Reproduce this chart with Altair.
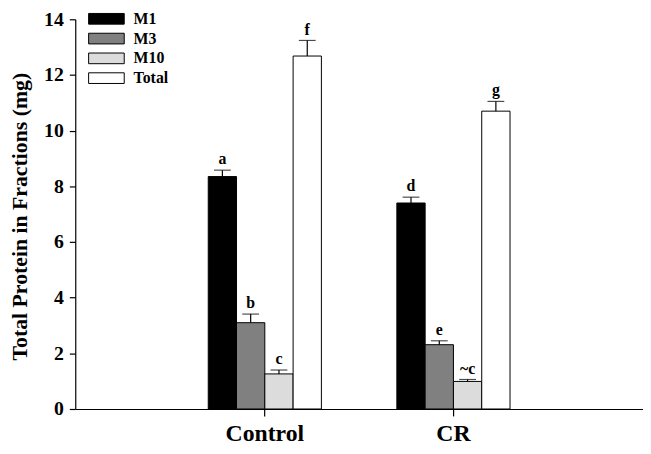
import altair as alt
import pandas as pd

groups = ["Control", "CR"]
fractions = ["M1", "M3", "M10", "Total"]
control_vals = [8.35, 3.10, 1.26, 12.68]
control_err = [0.23, 0.31, 0.14, 0.56]
cr_vals = [7.40, 2.31, 0.99, 10.70]
cr_err = [0.21, 0.14, 0.07, 0.35]
control_letters = ["a", "b", "c", "f"]
cr_letters = ["d", "e", "~c", "g"]
fill_colors = ["#000000", "#808080", "#dcdcdc", "#ffffff"]

rows = []
for g, vals, errs, lets in [("Control", control_vals, control_err, control_letters),
                            ("CR", cr_vals, cr_err, cr_letters)]:
    for f, v, e, l in zip(fractions, vals, errs, lets):
        rows.append({"group": g, "fraction": f, "value": v, "top": v + e, "letter": l})
df = pd.DataFrame(rows)

FONT = "Liberation Serif"

x = alt.X("group:N", sort=groups, title=None,
          scale=alt.Scale(paddingInner=0.4, paddingOuter=0.705),
          axis=alt.Axis(labelAngle=0, labelFontSize=24, labelFont=FONT, labelFontWeight="bold",
                        labelColor="black", tickSize=7, tickColor="black", domainColor="black",
                        labelPadding=6))
xo = alt.XOffset("fraction:N", sort=fractions, scale=alt.Scale(paddingInner=0, paddingOuter=0))

bars = alt.Chart(df).mark_bar(stroke="black", strokeWidth=1).encode(
    x=x, xOffset=xo,
    y=alt.Y("value:Q", title="Total Protein in Fractions (mg)",
            scale=alt.Scale(domain=[0, 14], nice=False),
            axis=alt.Axis(values=[0, 2, 4, 6, 8, 10, 12, 14], grid=False, labelFontSize=20,
                          labelFont=FONT, labelFontWeight="bold", labelColor="black",
                          tickSize=6, tickColor="black", domainColor="black", labelPadding=6,
                          titleFont=FONT, titleFontSize=22, titleFontWeight="bold",
                          titleColor="black", titleX=-56, titleY=199, titleAlign="center",
                          titleBaseline="middle", titleAngle=270)),
    fill=alt.Fill("fraction:N", sort=fractions,
                  scale=alt.Scale(domain=fractions, range=fill_colors),
                  legend=alt.Legend(title=None, orient="none", legendX=22, legendY=-10,
                                    symbolType="M-2,-0.6H2V0.6H-2Z", symbolSize=324,
                                    symbolStrokeColor="black", symbolStrokeWidth=1,
                                    labelFont=FONT, labelFontSize=16, labelFontWeight="bold",
                                    labelColor="black", labelOffset=18, rowPadding=2,
                                    padding=0)),
)

err = alt.Chart(df).mark_rule(color="black", strokeWidth=1.2).encode(
    x=x, xOffset=xo, y="value:Q", y2="top:Q")
caps = alt.Chart(df).mark_tick(color="black", size=17, thickness=1.2, orient="horizontal").encode(
    x=x, xOffset=xo, y="top:Q")
letters = alt.Chart(df).mark_text(font=FONT, fontSize=16, fontWeight="bold", color="black",
                                  baseline="bottom", dy=-3).encode(
    x=x, xOffset=xo, y="top:Q", text="letter:N")

chart = alt.layer(bars, err, caps, letters).properties(
    width=574, height=394,
    autosize=alt.AutoSizeParams(type="none"),
    padding={"left": 68, "top": 9, "right": 0, "bottom": 35},
).configure_view(stroke=None).configure_axis(domainWidth=1.2, tickWidth=1.2)

chart.save("out.html", embed_options={"renderer": "svg", "actions": False})
